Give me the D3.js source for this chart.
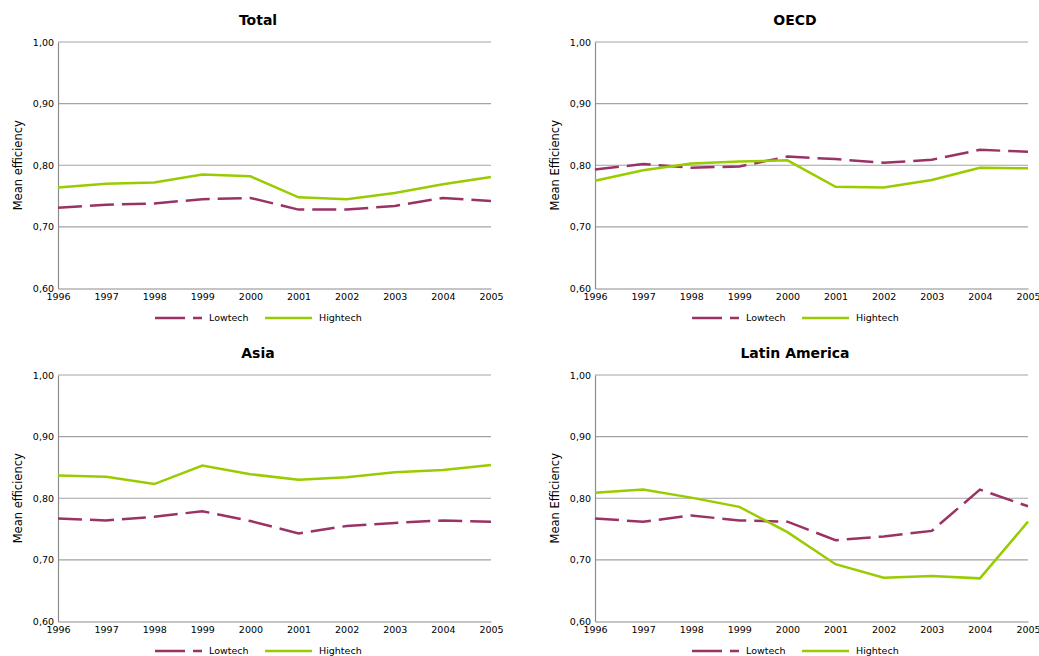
<!DOCTYPE html>
<html>
<head>
<meta charset="utf-8">
<script src="https://cdn.jsdelivr.net/npm/d3@7"></script>
<style>
  html, body { margin: 0; padding: 0; background: #fff; }
  svg { display: block; }
  text { font-family: "DejaVu Sans", Verdana, sans-serif; fill: #000; }
</style>
</head>
<body>
<svg id="chart" width="1039" height="656"></svg>
<script>
// Years on the x axis
const years = [1996, 1997, 1998, 1999, 2000, 2001, 2002, 2003, 2004, 2005];
const yTicks = [0.60, 0.70, 0.80, 0.90, 1.00];

// Mean efficiency by region
const totalLow  = [0.731, 0.736, 0.738, 0.745, 0.747, 0.728, 0.728, 0.734, 0.747, 0.742];
const totalHigh = [0.764, 0.770, 0.772, 0.785, 0.782, 0.748, 0.745, 0.755, 0.769, 0.781];

const oecdLow  = [0.793, 0.802, 0.796, 0.798, 0.814, 0.810, 0.804, 0.809, 0.825, 0.822];
const oecdHigh = [0.775, 0.792, 0.803, 0.806, 0.808, 0.765, 0.764, 0.776, 0.796, 0.795];

const asiaLow  = [0.767, 0.764, 0.770, 0.779, 0.763, 0.743, 0.755, 0.760, 0.764, 0.762];
const asiaHigh = [0.837, 0.835, 0.823, 0.853, 0.839, 0.830, 0.834, 0.842, 0.846, 0.854];

const latamLow  = [0.767, 0.762, 0.772, 0.764, 0.762, 0.732, 0.738, 0.747, 0.814, 0.787];
const latamHigh = [0.809, 0.814, 0.801, 0.786, 0.745, 0.693, 0.671, 0.674, 0.670, 0.762];

const panels = [
  { title: "Total",         ylabel: "Mean efficiency", low: totalLow, high: totalHigh, dx: 0,   dy: 0 },
  { title: "OECD",          ylabel: "Mean Efficiency", low: oecdLow,  high: oecdHigh,  dx: 537, dy: 0 },
  { title: "Asia",          ylabel: "Mean efficiency", low: asiaLow,  high: asiaHigh,  dx: 0,   dy: 333 },
  { title: "Latin America", ylabel: "Mean Efficiency", low: latamLow, high: latamHigh, dx: 537, dy: 333 }
];

const LOW_COLOR = "#993366";
const HIGH_COLOR = "#99cc00";
const DASH = "24 8";

const svg = d3.select("#chart");
const plot = { left: 58, right: 491, top: 42, bottom: 288.5 };

const x = d3.scaleLinear().domain([years[0], years[years.length - 1]]).range([plot.left, plot.right]);
const y = d3.scaleLinear().domain([0.6, 1.0]).range([plot.bottom, plot.top]);
const fmt = v => d3.format(".2f")(v).replace(".", ",");

panels.forEach(p => {
  const g = svg.append("g").attr("transform", `translate(${p.dx},${p.dy})`);

  // Title
  g.append("text")
    .attr("x", 258).attr("y", 25)
    .attr("text-anchor", "middle")
    .style("font-size", "14px").style("font-weight", "bold")
    .text(p.title);

  // Horizontal gridlines
  g.append("g").selectAll("line")
    .data(yTicks.slice(1))
    .join("line")
    .attr("x1", plot.left).attr("x2", plot.right)
    .attr("y1", d => y(d)).attr("y2", d => y(d))
    .attr("stroke", "#a3a3a3").attr("stroke-width", 1.2);

  // Y axis
  const yAxis = g.append("g")
    .attr("transform", `translate(${plot.left},0)`)
    .call(d3.axisLeft(y).tickValues(yTicks).tickFormat(fmt).tickSize(0).tickPadding(4));
  yAxis.select(".domain").attr("stroke", "#8c8c8c").attr("stroke-width", 1.2);
  yAxis.selectAll("text").style("font-size", "9.5px").style("font-family", "DejaVu Sans, sans-serif");

  // X axis
  const xAxis = g.append("g")
    .attr("transform", `translate(0,${plot.bottom})`)
    .call(d3.axisBottom(x).tickValues(years).tickFormat(d3.format("d")).tickSize(0).tickPadding(5));
  xAxis.select(".domain").attr("stroke", "#8c8c8c").attr("stroke-width", 1.2);
  xAxis.selectAll("text").style("font-size", "9.5px").style("font-family", "DejaVu Sans, sans-serif");

  // Y axis title
  g.append("text")
    .attr("transform", `translate(18,${(plot.top + plot.bottom) / 2}) rotate(-90)`)
    .attr("text-anchor", "middle")
    .attr("dy", "0.35em")
    .style("font-size", "11.5px")
    .text(p.ylabel);

  const line = d3.line().x((d, i) => x(years[i])).y(d => y(d));

  g.append("path")
    .datum(p.low)
    .attr("d", line)
    .attr("fill", "none")
    .attr("stroke", LOW_COLOR)
    .attr("stroke-width", 2.5)
    .attr("stroke-dasharray", DASH);

  g.append("path")
    .datum(p.high)
    .attr("d", line)
    .attr("fill", "none")
    .attr("stroke", HIGH_COLOR)
    .attr("stroke-width", 2.5);

  // Legend
  const ly = 318;
  const leg = g.append("g");
  leg.append("line")
    .attr("x1", 155).attr("x2", 202).attr("y1", ly).attr("y2", ly)
    .attr("stroke", LOW_COLOR).attr("stroke-width", 2.5).attr("stroke-dasharray", "30 8");
  leg.append("text")
    .attr("x", 209).attr("y", ly).attr("dy", "0.35em")
    .style("font-size", "9.5px").text("Lowtech");
  leg.append("line")
    .attr("x1", 265).attr("x2", 312).attr("y1", ly).attr("y2", ly)
    .attr("stroke", HIGH_COLOR).attr("stroke-width", 2.5);
  leg.append("text")
    .attr("x", 319).attr("y", ly).attr("dy", "0.35em")
    .style("font-size", "9.5px").text("Hightech");
});
</script>
</body>
</html>
